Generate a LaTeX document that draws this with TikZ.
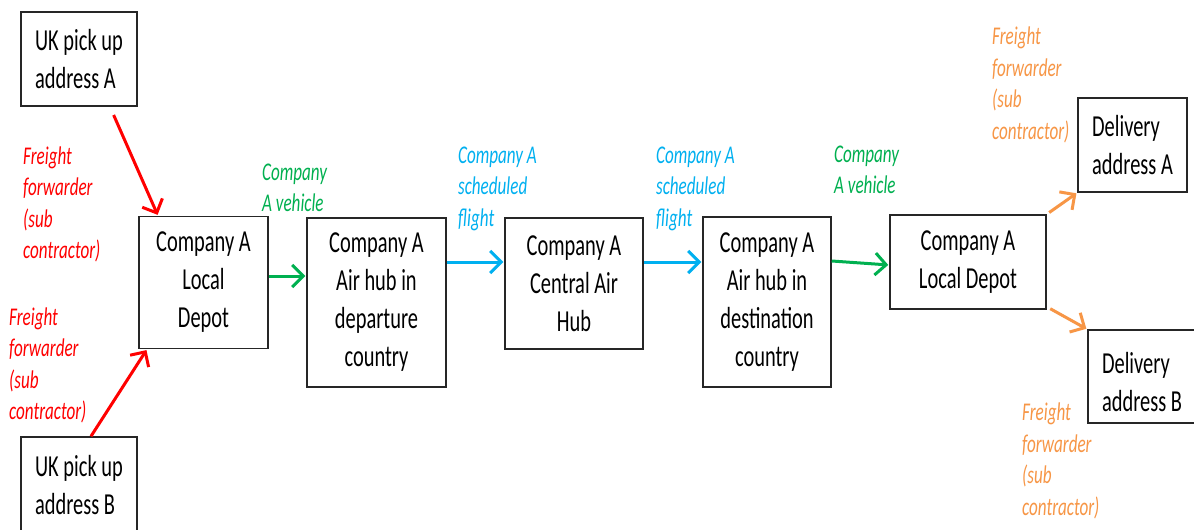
\documentclass[tikz,border=0pt]{standalone}
\usepackage{fontspec}
\setmainfont[FakeStretch=0.67]{Carlito}
\usetikzlibrary{arrows.meta,calc}
\definecolor{ored}{HTML}{FF0000}
\definecolor{ogreen}{HTML}{00B050}
\definecolor{oblue}{HTML}{00B0F0}
\definecolor{oorange}{HTML}{F79646}
\tikzset{
  box/.style={draw=black!85, line width=1.5pt, inner sep=0pt, align=center,
    font=\fontsize{30.5}{38}\selectfont},
  lbox/.style={box, align=left},
  btext/.style={inner sep=0pt, align=left, font=\fontsize{30.5}{38}\selectfont},
  lbl/.style={anchor=west, inner sep=0pt, align=left,
    font=\fontsize{25.5}{31.5}\selectfont\itshape},
  conn/.style={line width=3pt, -{Straight Barb[length=11pt,width=22pt,line width=3pt]}},
  redc/.style={conn, draw=ored},
  greenc/.style={conn, draw=ogreen},
  bluec/.style={conn, draw=oblue},
  orangec/.style={conn, draw=oorange},
}
\begin{document}
\begin{tikzpicture}[x=1pt,y=-1pt]
\useasboundingbox[fill=white] (0,0) rectangle (1194,530);
% boxes
\node[lbox, minimum width=116pt, minimum height=94pt] (ukA) at (79,59) {UK pick up\\address A};
\node[lbox, minimum width=116pt, minimum height=96pt] (ukB) at (79,485) {UK pick up\\address B};
\node[box, minimum width=129pt, minimum height=132pt] (dep1) at (203.5,282.5) {Company A\\Local\\Depot};
\node[box, minimum width=139pt, minimum height=169pt] (hubD) at (376.5,302.5) {Company A\\Air hub in\\departure\\country};
\node[box, minimum width=138pt, minimum height=131pt] (hubC) at (574,283.5) {Company A\\Central Air\\Hub};
\node[box, minimum width=128pt, minimum height=170pt] (hubX) at (767,302) {Company A\\Air hub in\\destination\\country};
\node[box, minimum width=156pt, minimum height=94pt] (dep2) at (968,262) {Company A\\Local Depot};
\node[lbox, minimum width=109pt, minimum height=94pt] (delA) at (1132.5,145) {Delivery\\address A};
\node[box, minimum width=108pt, minimum height=93pt] (delB) at (1142,376.5) {};
\node[btext] (delBt) at ([yshift=-6pt]delB.center) {Delivery\\address B};
% connectors
\draw[redc] ([xshift=31pt]ukA.south) -- ([xshift=-45.5pt]dep1.north)
  [shorten <=9pt, shorten >=1pt];
\draw[redc, shorten >=1pt] ([xshift=12pt]ukB.north) -- ([xshift=-56.5pt]dep1.south);
\draw[greenc, shorten >=1pt] ([yshift=6.5pt]dep1.east) -- ([yshift=6.5pt]dep1.east -| hubD.west);
\draw[bluec, shorten >=1pt] ([yshift=40.5pt]hubD.east) -- ([yshift=40.5pt]hubD.east -| hubC.west);
\draw[bluec, shorten >=1pt] ([yshift=21.5pt]hubC.east) -- ([yshift=21.5pt]hubC.east -| hubX.west);
\draw[greenc, shorten >=1pt] ([yshift=41pt]hubX.east) -- ([yshift=-3pt]dep2.west);
\draw[orangec, shorten <=3pt, shorten >=1pt] (dep2.north east) -- (delA.south west);
\draw[orangec, shorten <=4pt, shorten >=1pt] ([yshift=3pt]dep2.south east) -- (delB.north west);
% labels
\node[lbl, text=ored] (lA) at (23,204.5) {Freight\\forwarder\\(sub\\contractor)};
\node[lbl, text=ored] (lB) at (9,365.5) {Freight\\forwarder\\(sub\\contractor)};
\node[lbl, text=ogreen] (lg1) at (262,188) {Company\\A vehicle};
\node[lbl, text=oblue] (lb1) at (458,188.5) {Company A\\scheduled\\flight};
\node[lbl, text=oblue] (lb2) at (656,188.5) {Company A\\scheduled\\flight};
\node[lbl, text=ogreen] (lg2) at (834,170) {Company\\A vehicle};
\node[lbl, text=oorange] (loA) at (992,85) {Freight\\forwarder\\(sub\\contractor)};
\node[lbl, text=oorange] (loB) at (1022,461) {Freight\\forwarder\\(sub\\contractor)};
\end{tikzpicture}
\end{document}
